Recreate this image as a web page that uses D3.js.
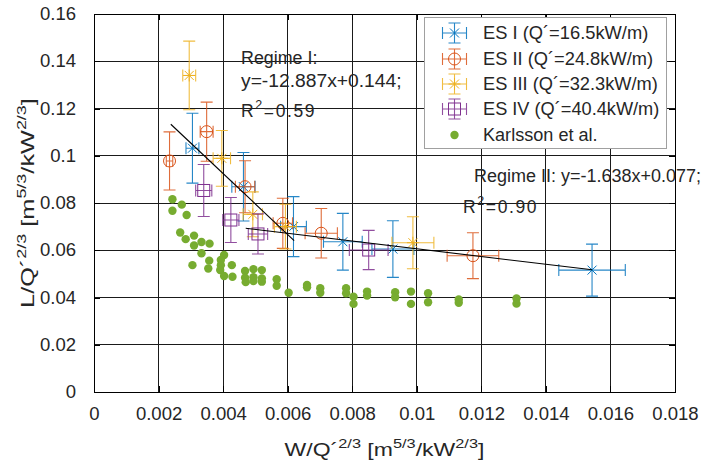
<!DOCTYPE html>
<html><head><meta charset="utf-8">
<script src="https://cdn.jsdelivr.net/npm/d3@7"></script>
<style>body{margin:0;background:#fff}svg{display:block}text{font-family:"Liberation Sans",Arial,sans-serif;fill:#262626}</style>
</head><body>
<script>
// ---- data ----
const xTicks = [0,0.002,0.004,0.006,0.008,0.01,0.012,0.014,0.016,0.018];
const xTickLabels = ["0","0.002","0.004","0.006","0.008","0.01","0.012","0.014","0.016","0.018"];
const yTicks = [0,0.02,0.04,0.06,0.08,0.1,0.12,0.14,0.16];
const yTickLabels = ["0","0.02","0.04","0.06","0.08","0.1","0.12","0.14","0.16"];
const seriesNames = ["ES I (Q\u00b4=16.5kW/m)","ES II (Q\u00b4=24.8kW/m)","ES III (Q\u00b4=32.3kW/m)","ES IV (Q\u00b4=40.4kW/m)","Karlsson et al."];
// [x, y, yErr, xErr]
const es1 = [[0.00305,0.1032,0.0148,0.0002],[0.00463,0.0869,0.0145,0.00036],[0.00618,0.0700,0.0127,0.0004],[0.00771,0.0636,0.0120,0.0006],[0.00926,0.0605,0.0120,0.00065],[0.01543,0.0516,0.0110,0.00103]];
const es2 = [[0.00234,0.0978,0.0123,0.0001],[0.00349,0.1102,0.0125,0.0002],[0.00468,0.0869,0.0110,0.0003],[0.00585,0.0714,0.0106,0.0003],[0.00704,0.0672,0.0105,0.0005],[0.01174,0.0577,0.0097,0.0008]];
const es3 = [[0.00295,0.1340,0.0145,0.0002],[0.00396,0.0989,0.0118,0.00027],[0.00492,0.0752,0.0095,0.0003],[0.00593,0.0700,0.0095,0.00034],[0.00988,0.0632,0.0110,0.00065]];
const es4 = [[0.00340,0.0853,0.0110,0.00025],[0.00424,0.0728,0.0095,0.00025],[0.00508,0.0669,0.0085,0.0003],[0.00851,0.0601,0.0083,0.0006]];
const karlsson = [[0.00243,0.0816],[0.00272,0.0793],[0.00243,0.0767],[0.00287,0.0749],[0.00267,0.0675],[0.00310,0.0662],[0.00284,0.0647],[0.00333,0.0635],[0.00358,0.0628],[0.00310,0.0620],[0.00333,0.0587],[0.00403,0.0580],[0.00393,0.0559],[0.00357,0.0556],[0.00305,0.0537],[0.00393,0.0537],[0.00427,0.0537],[0.00354,0.0523],[0.00391,0.0516],[0.00403,0.0491],[0.00429,0.0488],[0.00468,0.0512],[0.00468,0.0484],[0.00494,0.0520],[0.00494,0.0486],[0.00470,0.0465],[0.00494,0.0470],[0.00520,0.0516],[0.00520,0.0481],[0.00520,0.0467],[0.00566,0.0477],[0.00566,0.0450],[0.00603,0.0420],[0.00660,0.0453],[0.00660,0.0443],[0.00701,0.0439],[0.00701,0.0420],[0.00781,0.0439],[0.00781,0.0418],[0.00804,0.0403],[0.00804,0.0373],[0.00846,0.0425],[0.00846,0.0408],[0.00933,0.0422],[0.00933,0.0401],[0.00982,0.0425],[0.00982,0.0373],[0.01035,0.0418],[0.01035,0.0380],[0.01130,0.0392],[0.01130,0.0378],[0.01309,0.0396],[0.01309,0.0374]];
// fitted lines: slope, intercept, x range
const fit1 = {slope:-12.887, intercept:0.144, x0:0.00238, x1:0.0062};
const fit2 = {slope:-1.638, intercept:0.077, x0:0.0047, x1:0.01543};
const colors = ["#0072BD","#D95319","#EDB120","#7E2F8E","#77AC30"];
const markers = ["x","o","*","s"];

// ---- layout ----
const W = 703, H = 464;
const L = 94, R = 675, T = 14, B = 392;
const FS = 17.5, REF = 16.2;
const x = d3.scaleLinear().domain([0,0.018]).range([L,R]);
const y = d3.scaleLinear().domain([0,0.16]).range([B,T]);
const svg = d3.select("body").append("svg").attr("width",W).attr("height",H);

// grid
const grid = svg.append("g");
grid.selectAll(".gx").data(xTicks).join("line").attr("x1",d=>x(d)).attr("x2",d=>x(d)).attr("y1",T).attr("y2",B).attr("stroke","#1a1a1a").attr("stroke-width",1).attr("shape-rendering","crispEdges");
grid.selectAll(".gy").data(yTicks).join("line").attr("y1",d=>y(d)).attr("y2",d=>y(d)).attr("x1",L).attr("x2",R).attr("stroke","#1a1a1a").attr("stroke-width",1).attr("shape-rendering","crispEdges");

// axes
const fmtX = d => xTickLabels[xTicks.indexOf(d)];
const fmtY = d => yTickLabels[yTicks.indexOf(d)];
svg.append("g").attr("transform",`translate(0,${B})`).call(d3.axisBottom(x).tickValues(xTicks).tickFormat(fmtX).tickSize(-6).tickSizeOuter(0).tickPadding(16));
svg.append("g").attr("transform",`translate(${L},0)`).call(d3.axisLeft(y).tickValues(yTicks).tickFormat(fmtY).tickSize(-6).tickSizeOuter(0).tickPadding(18));
svg.append("g").attr("transform",`translate(0,${T})`).call(d3.axisTop(x).tickValues(xTicks).tickFormat("").tickSize(-6).tickSizeOuter(0));
svg.append("g").attr("transform",`translate(${R},0)`).call(d3.axisRight(y).tickValues(yTicks).tickFormat("").tickSize(-6).tickSizeOuter(0));
svg.selectAll(".domain").remove();
svg.selectAll(".tick line").attr("stroke","#000").attr("shape-rendering","crispEdges");
svg.selectAll(".tick text").attr("font-family","Liberation Sans, Arial, sans-serif").attr("font-size",FS).attr("fill","#262626").classed("fit",true);
svg.append("rect").attr("x",L).attr("y",T).attr("width",R-L).attr("height",B-T).attr("fill","none").attr("stroke","#000").attr("stroke-width",1).attr("shape-rendering","crispEdges");

// markers
function drawMarker(g, type, cx, cy, col){
  const s = 6;
  if(type==="x"){
    const a=4.5;
    g.append("path").attr("d",`M${cx-a},${cy-a}L${cx+a},${cy+a}M${cx-a},${cy+a}L${cx+a},${cy-a}`).attr("stroke",col).attr("fill","none");
  } else if(type==="o"){
    g.append("circle").attr("cx",cx).attr("cy",cy).attr("r",s).attr("stroke",col).attr("fill","none");
  } else if(type==="*"){
    const a=4.5;
    g.append("path").attr("d",`M${cx-a},${cy-a}L${cx+a},${cy+a}M${cx-a},${cy+a}L${cx+a},${cy-a}M${cx},${cy-s}L${cx},${cy+s}M${cx-s},${cy}L${cx+s},${cy}`).attr("stroke",col).attr("fill","none");
  } else if(type==="s"){
    g.append("rect").attr("x",cx-s).attr("y",cy-s).attr("width",2*s).attr("height",2*s).attr("stroke",col).attr("fill","none");
  }
}
function errBar(g, cx, yTop, yBot, xL, xR, cy, col){
  const c = 6;
  const p = `M${cx},${yTop}L${cx},${yBot}M${cx-c},${yTop}L${cx+c},${yTop}M${cx-c},${yBot}L${cx+c},${yBot}` +
            `M${xL},${cy}L${xR},${cy}M${xL},${cy-c}L${xL},${cy+c}M${xR},${cy-c}L${xR},${cy+c}`;
  g.append("path").attr("d",p).attr("stroke",col).attr("stroke-opacity",0.85).attr("fill","none").attr("stroke-width",1.1);
}
[es1,es2,es3,es4].forEach((data,i)=>{
  const g = svg.append("g");
  data.forEach(d=>{
    errBar(g, x(d[0]), y(d[1]+d[2]), y(d[1]-d[2]), x(d[0]-d[3]), x(d[0]+d[3]), y(d[1]), colors[i]);
    drawMarker(g, markers[i], x(d[0]), y(d[1]), colors[i]);
  });
});
svg.append("g").selectAll("circle").data(karlsson).join("circle").attr("cx",d=>x(d[0])).attr("cy",d=>y(d[1])).attr("r",4.2).attr("fill",colors[4]);

// fit lines
[fit1,fit2].forEach(f=>{
  svg.append("line").attr("x1",x(f.x0)).attr("y1",y(f.slope*f.x0+f.intercept)).attr("x2",x(f.x1)).attr("y2",y(f.slope*f.x1+f.intercept)).attr("stroke","#000").attr("stroke-width",1.1);
});

// annotations
const ann = svg.append("g").attr("font-size",FS);
ann.append("text").attr("x",241).attr("y",64).attr("fill","#000").text("Regime I:").classed("fit",true);
ann.append("text").attr("x",241).attr("y",87).attr("fill","#000").text("y=-12.887x+0.144;").classed("fit",true);
function rsq(xp, yp, val){
  const t = ann.append("text").attr("x",xp).attr("y",yp).attr("fill","#000").attr("letter-spacing",1.6);
  t.append("tspan").text("R");t.append("tspan").attr("font-size",12.5).attr("dy",-8).text("2");t.append("tspan").attr("dy",8).text(val);
  return t;
}
rsq(241,117,"=0.59");
ann.append("text").attr("x",474).attr("y",182).attr("fill","#000").text("Regime II: y=-1.638x+0.077;").attr("textLength",227).attr("lengthAdjust","spacingAndGlyphs");
rsq(463,213,"=0.90");

// axis labels (built with superscripts)
function supLabel(parent, base){
  const t = parent.append("text").attr("text-anchor","middle").attr("font-size",19).attr("fill","#262626");
  t.append("tspan").text(base);t.append("tspan").attr("font-size",13.5).attr("dy",-8).text("2/3");
  t.append("tspan").attr("dy",8).text(" [m");t.append("tspan").attr("font-size",13.5).attr("dy",-8).text("5/3");
  t.append("tspan").attr("dy",8).text("/kW");t.append("tspan").attr("font-size",13.5).attr("dy",-8).text("2/3");
  t.append("tspan").attr("dy",8).text("]");
  return t;
}
const xlG = svg.append("g").attr("transform",`translate(${(L+R)/2},456)`);
const xlT = supLabel(xlG.append("g"), "W/Q\u00b4");
const ylG = svg.append("g").attr("transform",`translate(34,${(T+B)/2}) rotate(-90)`);
const ylT = supLabel(ylG.append("g"), "L/Q\u00b4");
function stretchTo(t, target){
  const w = t.node().getBBox().width;
  d3.select(t.node().parentNode).attr("transform",`scale(${target/w},1)`);
}
stretchTo(xlT, 200);
stretchTo(ylT, 210);

// legend
const lg = svg.append("g");
lg.append("rect").attr("x",424.5).attr("y",17.5).attr("width",242).attr("height",131).attr("fill","#fff").attr("stroke","#a0a0a0").attr("stroke-width",1);
const rowY = [33,59,84,109,135];
seriesNames.forEach((name,i)=>{
  const cy = rowY[i], cx = 454.5;
  const g = lg.append("g");
  if(i<4){
    errBar(g, cx, cy-10, cy+10, cx-12, cx+12, cy, colors[i]);
    drawMarker(g, markers[i], cx, cy, colors[i]);
  } else {
    g.append("circle").attr("cx",cx).attr("cy",cy).attr("r",4.2).attr("fill",colors[4]);
  }
  lg.append("text").attr("x",483).attr("y",cy+6).attr("font-size",FS).attr("fill","#000").text(name).classed("fit",true);
});

// match reference text widths (wider digit metrics) by measuring in DejaVu Sans
svg.selectAll("text.fit").each(function(){
  const el = d3.select(this);
  el.style("font-family","DejaVu Sans").style("font-size",REF+"px");
  const w = this.getComputedTextLength();
  el.style("font-family",null).style("font-size",null);
  el.attr("textLength",w).attr("lengthAdjust","spacingAndGlyphs");
});
</script>
</body></html>
